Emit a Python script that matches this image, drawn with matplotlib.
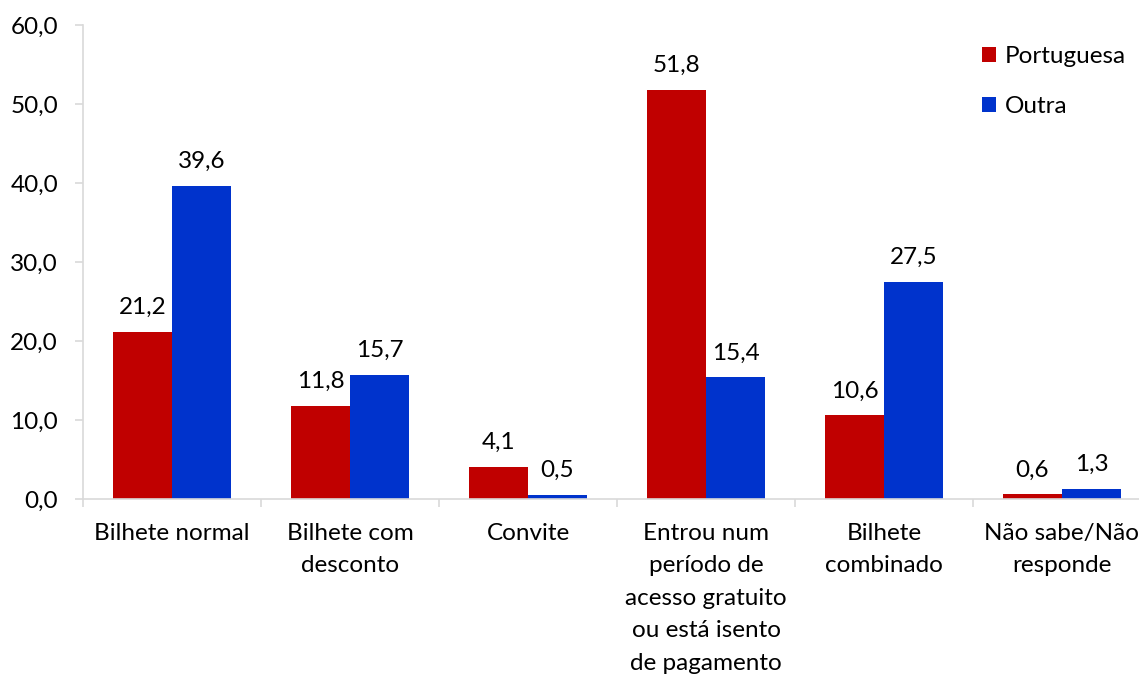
import matplotlib.pyplot as plt
import numpy as np
from matplotlib.ticker import FuncFormatter

plt.rcParams['font.family'] = ['Lato', 'DejaVu Sans']

categories = [
    'Bilhete normal',
    'Bilhete com\ndesconto',
    'Convite',
    'Entrou num\nperíodo de\nacesso gratuito\nou está isento\nde pagamento',
    'Bilhete\ncombinado',
    'Não sabe/Não\nresponde',
]
portuguesa = [21.2, 11.8, 4.1, 51.8, 10.6, 0.6]
outra = [39.6, 15.7, 0.5, 15.4, 27.5, 1.3]

RED = '#C00000'
BLUE = '#0033CC'
GRID = '#D9D9D9'
FS = 17.5

fig = plt.figure(figsize=(11.39, 6.74), dpi=100)
ax = fig.add_axes([83 / 1139, 175 / 674, 1068 / 1139, 474 / 674])

x = np.arange(len(categories))
w = 0.332
b1 = ax.bar(x - w / 2, portuguesa, w, color=RED, label='Portuguesa')
b2 = ax.bar(x + w / 2, outra, w, color=BLUE, label='Outra')

def fmt(v):
    return f'{v:.1f}'.replace('.', ',')

for bars, vals in ((b1, portuguesa), (b2, outra)):
    for bar, v in zip(bars, vals):
        ax.annotate(fmt(v), (bar.get_x() + bar.get_width() / 2, v),
                    xytext=(0, 10), textcoords='offset points',
                    ha='center', va='bottom', fontsize=FS)

ax.set_xlim(-0.5, len(categories) - 0.5)
ax.set_ylim(0, 60)
ax.set_yticks(np.arange(0, 61, 10))
ax.yaxis.set_major_formatter(FuncFormatter(lambda v, _: fmt(v)))

# category boundaries as ticks, labels on minor ticks at centres
ax.set_xticks(np.arange(len(categories) + 1) - 0.5)
ax.set_xticklabels([])
ax.set_xticks(x, minor=True)
ax.set_xticklabels(categories, minor=True, fontsize=FS, linespacing=1.68)
ax.tick_params(axis='x', which='minor', length=0, pad=17)
ax.tick_params(axis='x', which='major', length=5.5, color=GRID, width=1.2)
ax.tick_params(axis='y', length=6, color=GRID, width=1.2, labelsize=FS, pad=12)

for side in ('top', 'right'):
    ax.spines[side].set_visible(False)
for side in ('left', 'bottom'):
    ax.spines[side].set_color(GRID)
    ax.spines[side].set_linewidth(1.2)

ax.legend(loc='upper left', bbox_to_anchor=(960 / 1139, 1 - 24 / 674),
          bbox_transform=fig.transFigure, frameon=False, fontsize=FS,
          handlelength=0.6, handleheight=0.6, handletextpad=0.35,
          labelspacing=1.2)

fig.savefig('out.png', dpi=100)
